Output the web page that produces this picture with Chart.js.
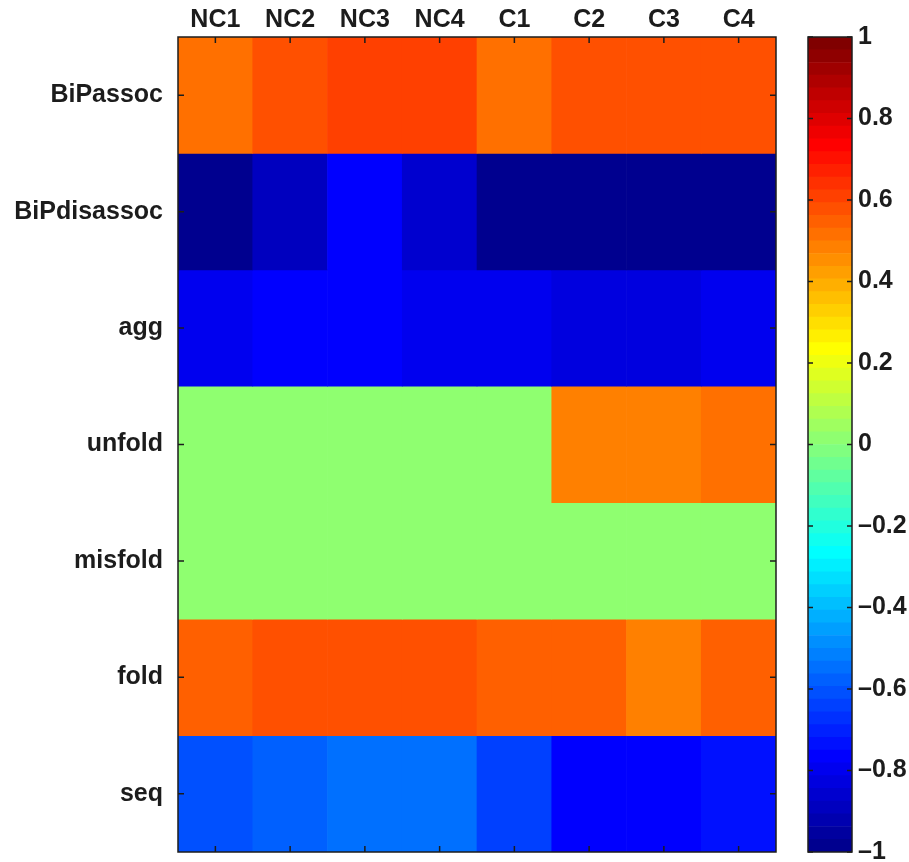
<!DOCTYPE html>
<html>
<head>
<meta charset="utf-8">
<script src="https://cdn.jsdelivr.net/npm/chart.js@4"></script>
<style>
  body { margin: 0; background: #fff; }
  #heat { position: absolute; left: 0; top: 0; }
  #cbar { position: absolute; left: 790px; top: 0; }
</style>
</head>
<body>
<canvas id="heat" width="790" height="862"></canvas>
<canvas id="cbar" width="119" height="862"></canvas>
<script>
// data
var columns = ['NC1', 'NC2', 'NC3', 'NC4', 'C1', 'C2', 'C3', 'C4'];
var rows = ['BiPassoc', 'BiPdisassoc', 'agg', 'unfold', 'misfold', 'fold', 'seq'];

var bipassoc    = [0.52, 0.58, 0.61, 0.61, 0.52, 0.58, 0.58, 0.58];
var bipdisassoc = [-0.98, -0.89, -0.77, -0.86, -0.98, -0.98, -0.98, -0.98];
var agg         = [-0.80, -0.77, -0.77, -0.79, -0.79, -0.83, -0.82, -0.80];
var unfold      = [0, 0, 0, 0, 0, 0.48, 0.48, 0.52];
var misfold     = [0, 0, 0, 0, 0, 0, 0, 0];
var fold        = [0.55, 0.58, 0.58, 0.58, 0.55, 0.55, 0.48, 0.55];
var seq         = [-0.61, -0.58, -0.55, -0.55, -0.64, -0.77, -0.77, -0.73];

var colorbarTicks = [-1, -0.8, -0.6, -0.4, -0.2, 0, 0.2, 0.4, 0.6, 0.8, 1];

var rowValues = [bipassoc, bipdisassoc, agg, unfold, misfold, fold, seq];

// matlab jet(64)
function u(j) {
  if (j < 1 || j > 47) return 0;
  if (j <= 16) return j / 16;
  if (j <= 31) return 1;
  return (48 - j) / 16;
}
function jet(k) {
  var r = Math.round(u(k - 24) * 255);
  var g = Math.round(u(k - 8) * 255);
  var b = Math.round(u(k + 8) * 255);
  return 'rgb(' + r + ',' + g + ',' + b + ')';
}
function colorOf(v) {
  var k = Math.floor((v + 1) / 2 * 64) + 1;
  if (k > 64) k = 64;
  if (k < 1) k = 1;
  return jet(k);
}

var font = { family: '"Liberation Sans", Arial, sans-serif', size: 25, weight: 'bold' };
var ink = '#1c1c1c';

// no extra room for end labels, the plot box is fixed
function noPad(s) {
  s.paddingTop = 0; s.paddingBottom = 0;
  s.paddingLeft = 0; s.paddingRight = 0;
}

// border + inward ticks like matlab
var frame = {
  id: 'frame',
  afterDatasetsDraw: function (chart) {
    var ctx = chart.ctx, a = chart.chartArea;
    ctx.save();
    ctx.strokeStyle = ink;
    ctx.lineWidth = 1.5;
    ctx.beginPath();
    var xs = chart.scales.x, ys = chart.scales.y;
    if (chart.canvas.id == 'heat') {
      for (var i = 0; i < columns.length; i++) {
        var x = xs.getPixelForValue(i);
        ctx.moveTo(x, a.top); ctx.lineTo(x, a.top + 6);
        ctx.moveTo(x, a.bottom); ctx.lineTo(x, a.bottom - 6);
      }
      for (var j = 0; j < rows.length; j++) {
        var y = ys.getPixelForValue(j + 0.5);
        ctx.moveTo(a.left, y); ctx.lineTo(a.left + 6, y);
        ctx.moveTo(a.right, y); ctx.lineTo(a.right - 6, y);
      }
    } else {
      for (var t = 0; t < colorbarTicks.length; t++) {
        var yy = ys.getPixelForValue(colorbarTicks[t]);
        ctx.moveTo(a.left, yy); ctx.lineTo(a.left + 5, yy);
        ctx.moveTo(a.right, yy); ctx.lineTo(a.right - 5, yy);
      }
    }
    ctx.stroke();
    ctx.strokeRect(a.left, a.top, a.right - a.left, a.bottom - a.top);
    ctx.restore();
  }
};

var heatSets = [];
for (var r = 0; r < rows.length; r++) {
  heatSets.push({
    label: rows[r],
    data: columns.map(function () { return [r, r + 1]; }),
    backgroundColor: rowValues[r].map(colorOf),
    borderWidth: 0,
    barPercentage: 1,
    categoryPercentage: 1
  });
}

new Chart(document.getElementById('heat'), {
  type: 'bar',
  data: { labels: columns, datasets: heatSets },
  options: {
    responsive: false,
    animation: false,
    layout: { padding: { left: 0, top: 0, right: 14, bottom: 10 } },
    plugins: { legend: { display: false }, tooltip: { enabled: false } },
    scales: {
      x: {
        position: 'top',
        stacked: true,
        grid: { display: false, drawTicks: false },
        border: { display: false },
        ticks: { font: font, color: ink, padding: 2, maxRotation: 0 },
        afterFit: function (s) { s.height = 37; noPad(s); }
      },
      y: {
        min: 0,
        max: 7,
        reverse: true,
        grid: { display: false, drawTicks: false },
        border: { display: false },
        afterBuildTicks: function (s) {
          s.ticks = rows.map(function (n, i) { return { value: i + 0.5 }; });
        },
        ticks: {
          font: font, color: ink, padding: 15, autoSkip: false,
          callback: function (v) { return rows[Math.floor(v)]; }
        },
        afterFit: function (s) { s.width = 178; noPad(s); }
      }
    }
  },
  plugins: [frame]
});

var barSets = [];
for (var k = 1; k <= 64; k++) {
  barSets.push({
    data: [[-1 + (k - 1) / 32, -1 + k / 32]],
    backgroundColor: jet(k),
    borderWidth: 0,
    barPercentage: 1,
    categoryPercentage: 1
  });
}

new Chart(document.getElementById('cbar'), {
  type: 'bar',
  data: { labels: [''], datasets: barSets },
  options: {
    responsive: false,
    animation: false,
    layout: { padding: { left: 18, top: 37, right: 0, bottom: 10 } },
    plugins: { legend: { display: false }, tooltip: { enabled: false } },
    scales: {
      x: { display: false, stacked: true },
      y: {
        position: 'right',
        min: -1,
        max: 1,
        grid: { display: false, drawTicks: false },
        border: { display: false },
        afterBuildTicks: function (s) {
          s.ticks = colorbarTicks.map(function (v) { return { value: v }; });
        },
        ticks: {
          font: font, color: ink, padding: 6, autoSkip: false,
          callback: function (v) {
            var n = Number(v.toFixed(1));
            return n < 0 ? '\u2013' + Math.abs(n) : String(n);
          }
        },
        afterFit: function (s) { s.width = 57; noPad(s); }
      }
    }
  },
  plugins: [frame]
});
</script>
</body>
</html>
